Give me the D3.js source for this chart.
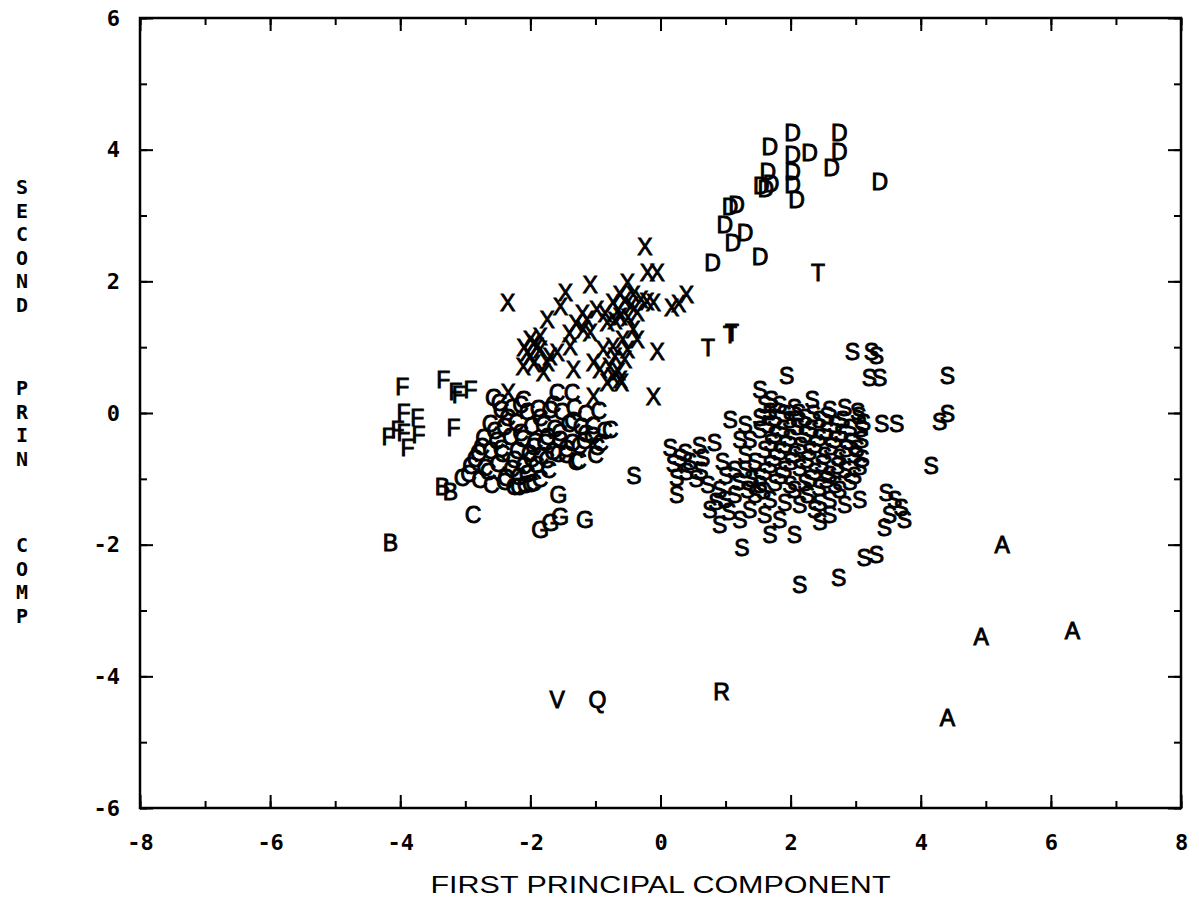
<!DOCTYPE html>
<html><head><meta charset="utf-8">
<script src="https://cdn.jsdelivr.net/npm/d3@7"></script>
<style>html,body{margin:0;padding:0;background:#fff;}svg{display:block;}</style>
</head><body>
<script>
// ---- data ----
const xTicks = [-8,-6,-4,-2,0,2,4,6,8];
const yTicks = [-6,-4,-2,0,2,4,6];
const xTitle = "FIRST PRINCIPAL COMPONENT";
const yTitleWords = ["SECOND","PRIN","COMP"];

const dX = [1.68,2.03,2.03,2.29,2.75,2.75,2.63,3.37,1.65,1.55,1.62,1.70,2.03,2.03,2.09,1.17,1.07,0.99,1.30,1.11,1.53,0.80];
const dY = [4.04,4.25,3.92,3.95,4.25,3.97,3.72,3.51,3.66,3.45,3.40,3.48,3.66,3.46,3.24,3.16,3.13,2.86,2.74,2.58,2.37,2.28];
const tX = [2.42,0.73,1.07,1.10];
const tY = [2.13,0.99,1.19,1.22];
const xX = [-0.24,-0.20,-0.05,-2.35,0.40,0.17,0.28,-0.05,-0.11,-1.46,-1.08,-1.54,-0.51,-0.62,-0.42,-0.21,-0.73,-0.98,-1.13,-1.74,-2.00,-1.90,-2.05,-2.11,-1.74,-1.80,-1.59,-1.39,-1.08,-0.82,-0.62,-0.42,-0.58,-0.36,-0.73,-0.88,-0.51,-0.93,-0.73,-0.82,-0.62,-1.03,-1.34,-1.19,-0.36,-0.11,-1.03,-2.34,
  -1.95,-1.85,-2.00,-1.70,-1.95,-1.85,-2.10,-0.65,-0.55,-0.45,-0.30,-0.70,-0.50,-0.85,-0.78,-0.65,-0.55,-0.70,-0.60,-1.30,-1.20,-1.40];
const xY = [2.52,2.13,2.13,1.67,1.79,1.60,1.66,0.93,0.24,1.82,1.95,1.61,1.98,1.79,1.79,1.69,1.67,1.57,1.41,1.41,1.11,1.00,0.91,0.70,0.76,0.61,0.91,1.00,1.21,1.36,1.46,1.26,1.11,1.11,1.00,0.96,0.96,0.65,0.55,0.46,0.50,0.76,0.65,1.26,1.52,1.67,0.24,0.30,
  1.05,0.95,0.85,0.85,0.75,1.15,0.98,1.55,1.70,1.62,1.72,1.40,1.45,1.50,0.70,0.62,0.80,0.85,0.45,1.35,1.50,1.20];
const fX = [-3.97,-3.34,-3.15,-3.10,-2.92,-3.18,-3.95,-3.74,-4.18,-3.95,-3.72,-3.89,-4.04];
const fY = [0.40,0.50,0.32,0.28,0.35,-0.23,0.00,-0.08,-0.36,-0.30,-0.33,-0.53,-0.26];
const bX = [-4.15,-3.35,-3.23];
const bY = [-1.98,-1.12,-1.20];
const cX = [-2.57,-2.11,-1.59,-1.36,-0.77,-2.88,-2.45,-2.28,-2.05,-1.88,-1.70,-1.52,-1.33,-1.15,-0.95,-2.62,-2.40,-2.22,-1.98,-1.80,-1.63,-1.41,-1.22,-1.04,-0.86,-2.72,-2.52,-2.31,-2.12,-1.93,-1.74,-1.55,-1.36,-1.17,-0.98,-2.80,-2.61,-2.43,-2.20,-2.02,-1.84,-1.66,-1.45,-1.26,-1.00,-2.92,-2.70,-2.50,-2.29,-2.10,-1.91,-1.72,-1.30,-3.05,-2.78,-2.40,-2.18,-2.00,-1.85,-2.60,-2.25,-2.08,-1.95,
  -2.35,-2.15,-1.95,-1.75,-1.55,-1.35,-1.15,-2.45,-2.25,-2.05,-2.65,-2.85,-1.65,-1.45,-1.25,-2.55,-2.75,-2.15,-1.85,-1.05,-0.92,-2.38,-2.18,-1.98,-1.78,-1.58,-2.95,-2.48];
const cY = [0.23,0.20,0.30,0.30,-0.26,-1.55,0.05,0.08,0.02,0.06,0.04,0.01,0.07,-0.02,0.03,-0.17,-0.22,-0.15,-0.20,-0.18,-0.24,-0.16,-0.21,-0.19,-0.28,-0.38,-0.42,-0.36,-0.40,-0.44,-0.37,-0.41,-0.46,-0.43,-0.52,-0.60,-0.58,-0.63,-0.57,-0.62,-0.66,-0.59,-0.64,-0.73,-0.64,-0.80,-0.83,-0.78,-0.85,-0.81,-0.79,-0.86,-0.75,-0.98,-1.02,-1.05,-0.97,-1.08,-1.01,-1.10,-1.12,-1.09,-1.06,
  -0.08,-0.30,-0.52,-0.72,-0.30,-0.12,-0.32,-0.55,-0.72,-0.92,-0.90,-0.70,0.12,-0.55,-0.50,-0.28,-0.52,0.12,-0.08,-0.35,-0.45,-0.98,-1.12,-0.70,-0.45,-0.62,-0.92,0.15];
const gX = [-1.57,-1.54,-1.69,-1.85,-1.16];
const gY = [-1.25,-1.58,-1.67,-1.78,-1.63];
const sX = [-0.41,1.94,2.95,3.24,3.32,3.21,3.37,4.41,4.41,4.29,3.40,3.63,4.16,3.06,3.47,3.60,3.70,3.75,3.52,3.44,3.13,3.32,2.74,2.14,1.25,1.68,2.06,2.45,0.91,0.76,0.25,0.25,0.15,0.38,0.60,0.83,1.07,1.22,1.53,1.70,2.33,2.60,2.83,3.03,0.73,0.91,1.14,1.34,1.53,2.75,2.60,2.45,2.26,2.06,
  1.60,1.83,2.06,1.76,1.99,2.22,2.44,2.68,2.91,1.53,1.76,1.99,2.22,2.44,2.68,2.91,3.09,1.60,1.83,2.06,2.29,2.52,2.75,2.98,1.68,1.91,2.14,2.37,2.60,2.83,1.53,1.76,1.99,2.22,2.44,2.68,2.91,1.45,1.30,1.45,1.68,1.91,2.14,2.37,2.60,2.83,3.06,1.37,1.60,1.83,1.22,0.99,1.14,1.30,1.37,1.30,1.53,
  0.45,0.20,0.55,0.95,1.00,0.85,1.05,0.65,3.05,3.08,3.02,3.10,2.98,3.12,
  1.68,1.90,2.12,2.35,2.56,2.80,1.65,1.88,2.10,2.32,2.55,2.78,1.70,1.92,2.15,2.38,2.62,2.85,1.75,2.00,2.25,2.48,2.72,1.60,1.85,2.30,2.55,1.40,1.58,1.20,0.40,0.62,0.30];
const sY = [-0.96,0.56,0.93,0.93,0.87,0.53,0.53,0.56,-0.02,-0.14,-0.17,-0.17,-0.81,-0.82,-1.22,-1.32,-1.44,-1.63,-1.55,-1.75,-2.20,-2.16,-2.51,-2.61,-2.05,-1.85,-1.85,-1.66,-1.70,-1.47,-1.25,-0.99,-0.53,-0.61,-0.50,-0.46,-0.11,-0.41,0.35,0.20,0.20,0.05,0.08,0.02,-1.09,-1.17,-1.25,-1.17,-1.09,-1.17,-1.32,-1.37,-1.25,-1.17,
  0.12,0.12,0.08,-0.08,-0.11,-0.08,-0.11,-0.18,-0.23,-0.26,-0.33,-0.38,-0.33,-0.38,-0.41,-0.44,-0.41,-0.56,-0.59,-0.64,-0.59,-0.65,-0.68,-0.64,-0.79,-0.87,-0.84,-0.90,-0.94,-0.87,-0.99,-1.06,-1.09,-1.06,-1.14,-1.09,-1.05,-0.74,-0.87,-1.25,-1.32,-1.37,-1.40,-1.47,-1.55,-1.40,-1.32,-1.47,-1.55,-1.63,-1.63,-1.32,-0.87,-0.64,-0.41,-0.18,-0.08,
  -0.75,-0.78,-1.00,-0.75,-0.95,-1.35,-1.50,-0.68,-0.05,-0.25,-0.55,-0.70,-0.95,-0.15,
  0.02,-0.02,0.00,-0.02,-0.05,-0.10,-0.18,-0.25,-0.22,-0.25,-0.28,-0.30,-0.45,-0.48,-0.50,-0.48,-0.52,-0.55,-0.68,-0.75,-0.72,-0.78,-0.80,-0.90,-0.96,-1.00,-1.02,-1.00,-1.18,-1.05,-0.90,-0.88,-0.68];
const aX = [5.25,4.93,6.33,4.41];
const aY = [-2.00,-3.40,-3.31,-4.64];
const vX = [-1.59], vY = [-4.36];
const qX = [-0.97], qY = [-4.36];
const rX = [0.94], rY = [-4.24];

const groups = [
  ["D",dX,dY],["T",tX,tY],["X",xX,xY],["F",fX,fY],["B",bX,bY],["C",cX,cY],
  ["G",gX,gY],["S",sX,sY],["A",aX,aY],["V",vX,vY],["Q",qX,qY],["R",rX,rY]
];
const points = [];
groups.forEach(([lab,xs,ys]) => xs.forEach((v,i) => points.push({lab, x:v, y:ys[i]})));

// ---- drawing ----
const W = 1199, H = 901;
const L = 140, R = 1181, T = 18, B = 808;
const svg = d3.select("body").append("svg").attr("width",W).attr("height",H);
const x = d3.scaleLinear().domain([-8,8]).range([L,R]);
const y = d3.scaleLinear().domain([-6,6]).range([B,T]);

const minorX = d3.range(-8,9,1), minorY = d3.range(-6,7,1);
const fmt = d => String(d);
const tickFont = "'DejaVu Sans Mono', monospace";

function styleAxis(g){
  g.select(".domain").remove();
  g.selectAll("line").attr("stroke","#000").attr("stroke-width",2);
  g.selectAll("text").attr("font-family",tickFont).attr("font-weight","bold").attr("font-size",22).attr("fill","#000");
}
// bottom
svg.append("g").attr("transform",`translate(0,${B})`)
  .call(d3.axisBottom(x).tickValues(minorX).tickSize(-7).tickFormat("")).call(styleAxis);
svg.append("g").attr("transform",`translate(0,${B})`)
  .call(d3.axisBottom(x).tickValues(xTicks).tickSize(-13).tickPadding(26).tickFormat(fmt)).call(styleAxis);
// top
svg.append("g").attr("transform",`translate(0,${T})`)
  .call(d3.axisTop(x).tickValues(minorX).tickSize(-7).tickFormat("")).call(styleAxis);
svg.append("g").attr("transform",`translate(0,${T})`)
  .call(d3.axisTop(x).tickValues(xTicks).tickSize(-13).tickFormat("")).call(styleAxis);
// left
svg.append("g").attr("transform",`translate(${L},0)`)
  .call(d3.axisLeft(y).tickValues(minorY).tickSize(-7).tickFormat("")).call(styleAxis);
svg.append("g").attr("transform",`translate(${L},0)`)
  .call(d3.axisLeft(y).tickValues(yTicks).tickSize(-13).tickPadding(20).tickFormat(fmt)).call(styleAxis);
// right
svg.append("g").attr("transform",`translate(${R},0)`)
  .call(d3.axisRight(y).tickValues(minorY).tickSize(-7).tickFormat("")).call(styleAxis);
svg.append("g").attr("transform",`translate(${R},0)`)
  .call(d3.axisRight(y).tickValues(yTicks).tickSize(-13).tickFormat("")).call(styleAxis);

// frame
svg.append("rect").attr("x",L).attr("y",T).attr("width",R-L).attr("height",B-T)
  .attr("fill","none").attr("stroke","#000").attr("stroke-width",2.5);

// points as letters
svg.append("g").selectAll("text").data(points).join("text")
  .attr("x",d => x(d.x)).attr("y",d => y(d.y))
  .attr("text-anchor","middle").attr("dominant-baseline","central")
  .attr("font-family","'Liberation Sans', Arial, sans-serif").attr("font-size",23)
  .attr("fill","#000").attr("stroke","#000").attr("stroke-width",0.9)
  .text(d => d.lab);

// x title
svg.append("text").attr("x",(L+R)/2).attr("y",885)
  .attr("text-anchor","middle").attr("dominant-baseline","central")
  .attr("font-family","'Liberation Sans', Arial, sans-serif").attr("font-size",23)
  .attr("textLength",460).attr("lengthAdjust","spacingAndGlyphs")
  .attr("fill","#000").text(xTitle);

// y title: stacked letters, one column per word block
const wordStarts = [187, 388, 545];
const chars = [];
yTitleWords.forEach((w,wi) => w.split("").forEach((c,ci) => chars.push({c, yy: wordStarts[wi] + ci*23.5})));
svg.append("g").selectAll("text").data(chars).join("text")
  .attr("x",22).attr("y",d => d.yy)
  .attr("text-anchor","middle").attr("dominant-baseline","central")
  .attr("font-family",tickFont).attr("font-weight","bold").attr("font-size",20)
  .attr("fill","#000").text(d => d.c);
</script>
</body></html>
